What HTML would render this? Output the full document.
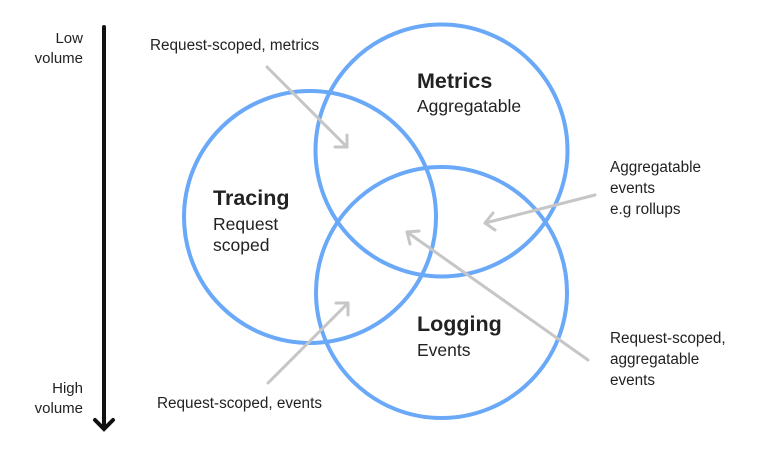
<!DOCTYPE html>
<html><head><style>
body{margin:0;background:#fff;}
svg{display:block;}
text{font-family:"Liberation Sans",sans-serif;fill:#222;}
</style></head><body>
<svg width="768" height="468" viewBox="0 0 768 468" xmlns="http://www.w3.org/2000/svg">
<g fill="none" stroke="#6aa8f8" stroke-width="4">
<circle cx="441.5" cy="150.5" r="126"/>
<circle cx="310" cy="217" r="126"/>
<circle cx="441.5" cy="292.5" r="125.5"/>
</g>
<g stroke="#c6c6c6" stroke-width="3" fill="none" stroke-linecap="round" stroke-linejoin="round">
<line x1="267" y1="67" x2="347" y2="147"/><polyline points="335,147 347,147 347,135"/>
<line x1="595" y1="195" x2="485" y2="223"/><polyline points="493,213 485,223 495,230"/>
<line x1="588" y1="360" x2="407" y2="232"/><polyline points="410,244 407,232 419,231"/>
<line x1="268" y1="383" x2="348" y2="303"/><polyline points="336,303 348,303 348,315"/>
</g>
<g stroke="#111" stroke-width="4" fill="none" stroke-linecap="round">
<line x1="104" y1="27" x2="104" y2="428"/>
<polyline points="95,420 104,429 113,420"/>
</g>
<g font-size="15" text-anchor="end">
<text x="83" y="43">Low</text><text x="83" y="63">volume</text>
<text x="83" y="393">High</text><text x="83" y="413">volume</text>
</g>
<g font-size="15.3">
<text x="150" y="50">Request-scoped, metrics</text>
<text x="157" y="408">Request-scoped, events</text>
<text x="610" y="172">Aggregatable</text><text x="610" y="193">events</text><text x="610" y="214">e.g rollups</text>
<text x="610" y="343">Request-scoped,</text><text x="610" y="364">aggregatable</text><text x="610" y="385">events</text>
</g>
<g font-size="21.5" font-weight="bold">
<text x="417" y="88">Metrics</text>
<text x="213" y="205">Tracing</text>
<text x="417" y="331">Logging</text>
</g>
<g font-size="17.5">
<text x="417" y="112">Aggregatable</text>
<text x="213" y="230">Request</text><text x="213" y="251">scoped</text>
<text x="417" y="356">Events</text>
</g>
</svg>
</body></html>
